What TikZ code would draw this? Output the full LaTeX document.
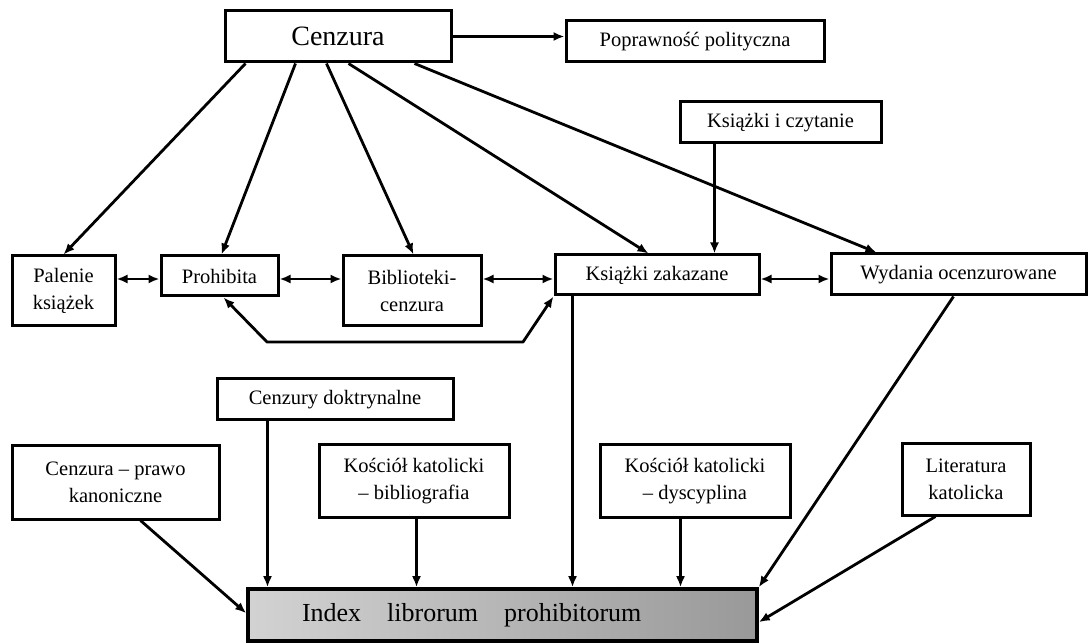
\documentclass[tikz,border=0pt]{standalone}
\usepackage{fontspec}
\setmainfont{Liberation Serif}
\usetikzlibrary{arrows.meta,calc}
\begin{document}
\begin{tikzpicture}[x=1pt,y=-1pt,
  box/.style={draw=black,line width=3pt,fill=white,inner sep=0pt,align=center,
    font=\fontsize{20.5}{27}\selectfont},
  arr/.style={line width=2.8pt,-{Latex[length=11pt,width=9pt]}},
  darr/.style={line width=2.8pt,{Latex[length=11pt,width=9pt]}-{Latex[length=11pt,width=9pt]}}]
\useasboundingbox (0,0) rectangle (1088,644);
% nodes
\node[box,minimum width=226pt,minimum height=51pt,font=\fontsize{28}{32}\selectfont] (cenz) at (338,36.5) {Cenzura};
\node[box,minimum width=258pt,minimum height=41pt] (popr) at (695,41.5) {Poprawność polityczna};
\node[box,minimum width=201pt,minimum height=41pt] (kic) at (780.5,122.5) {Książki i czytanie};
\node[box,minimum width=103pt,minimum height=70pt] (pal) at (63.5,291) {Palenie\\książek};
\node[box,minimum width=117pt,minimum height=40pt] (proh) at (219.5,276) {Prohibita};
\node[box,minimum width=138pt,minimum height=70pt] (bib) at (412,291) {Biblioteki-\\cenzura};
\node[box,minimum width=204pt,minimum height=40pt] (kz) at (657,275) {Książki zakazane};
\node[box,minimum width=255pt,minimum height=41pt] (wyd) at (958.5,274.5) {Wydania ocenzurowane};
\node[box,minimum width=236pt,minimum height=41pt] (cd) at (335,399.5) {Cenzury doktrynalne};
\node[box,minimum width=207pt,minimum height=73pt] (cpk) at (115.5,482.5) {Cenzura – prawo\\kanoniczne};
\node[box,minimum width=190pt,minimum height=72pt] (kkb) at (414,481) {Kościół katolicki\\– bibliografia};
\node[box,minimum width=190pt,minimum height=72pt] (kkd) at (695,481) {Kościół katolicki\\– dyscyplina};
\node[box,minimum width=128pt,minimum height=71pt] (lit) at (966,479.5) {Literatura\\katolicka};
\node[draw=black,line width=3.6pt,left color=gray!35,middle color=gray!22,right color=gray!80,
  inner sep=0pt,minimum height=52pt,text width=509pt,align=left,
  font=\fontsize{26}{30}\selectfont] (idx) at (502.5,615)
  {\hspace*{54pt}Index\hspace{26pt}librorum\hspace{26pt}prohibitorum};
% connectors from Cenzura
\draw[arr] (cenz.east) -- (cenz.east -| popr.west);
\draw[arr] ($(cenz.south west)+(22,0)$) -- (pal.north);
\draw[arr] ($(cenz.south west)+(72,0)$) -- ($(proh.north west)+(62,0)$);
\draw[arr] ($(cenz.south west)+(103,0)$) -- ($(bib.north west)+(72,0)$);
\draw[arr] ($(cenz.south west)+(125,0)$) -- ($(kz.north west)+(95,0)$);
\draw[arr] ($(cenz.south west)+(191,0)$) -- ($(wyd.north west)+(47,0)$);
\draw[arr] ($(kic.south west)+(36,0)$) coordinate (k1) -- (k1 |- kz.north);
% middle row
\draw[darr] (pal.east |- 0,279) -- (proh.west |- 0,279);
\draw[darr] (proh.east |- 0,279) -- (bib.west |- 0,279);
\draw[darr] (bib.east |- 0,279) -- (kz.west |- 0,279);
\draw[darr] (kz.east |- 0,279) -- (wyd.west |- 0,279);
\draw[darr,line join=round] ($(proh.south west)+(64,0)$) -- (267,342) -- (523,342) -- (kz.south west);
% into Index
\draw[arr] ($(kz.south west)+(19,0)$) coordinate (z1) -- (z1 |- idx.north);
\draw[arr] ($(wyd.south west)+(124,0)$) -- (idx.north east);
\draw[arr] ($(lit.south west)+(35,0)$) -- ($(idx.north east)+(0,35)$);
\draw[arr] ($(cpk.south west)+(130,0)$) -- ($(idx.north west)+(0,26)$);
\draw[arr] ($(cd.south west)+(52,0)$) coordinate (c1) -- (c1 |- idx.north);
\draw[arr] ($(kkb.south west)+(99,0)$) coordinate (b1) -- (b1 |- idx.north);
\draw[arr] ($(kkd.south west)+(82,0)$) coordinate (d1) -- (d1 |- idx.north);
\end{tikzpicture}
\end{document}
